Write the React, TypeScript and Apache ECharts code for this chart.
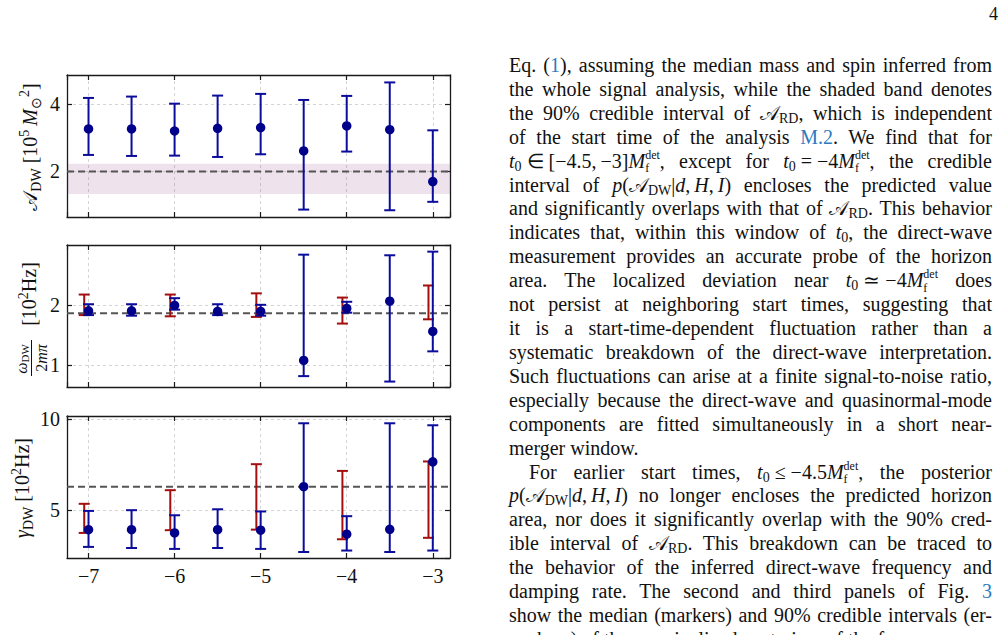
import React, { useEffect, useLayoutEffect, useRef } from "react";
import * as echarts from "echarts";

// ---------------- data ----------------
const t0 = [-7, -6.5, -6, -5.5, -5, -4.5, -4, -3.5, -3];
const redT0 = [-7, -6, -5, -4, -3];

const areaMedian = [3.26, 3.26, 3.2, 3.28, 3.3, 2.61, 3.35, 3.24, 1.7];
const areaLower = [2.49, 2.46, 2.47, 2.43, 2.51, 0.87, 2.59, 0.85, 1.1];
const areaUpper = [4.18, 4.22, 4.01, 4.25, 4.3, 4.12, 4.24, 4.64, 3.22];
const areaPredicted = 2.0;
const areaBand = [1.33, 2.23];

const freqMedian = [1.9, 1.9, 1.99, 1.89, 1.89, 1.08, 1.94, 2.06, 1.56];
const freqLower = [1.83, 1.82, 1.92, 1.83, 1.82, 0.82, 1.87, 0.73, 1.23];
const freqUpper = [2.01, 2.01, 2.11, 2.01, 2.0, 2.83, 2.05, 2.82, 2.88];
const freqPredicted = 1.86;
const redFreqLower = [1.83, 1.81, 1.8, 1.69, 1.76];
const redFreqUpper = [2.17, 2.17, 2.19, 2.12, 2.32];

const dampMedian = [3.93, 3.93, 3.75, 3.93, 3.9, 6.29, 3.68, 3.95, 7.66];
const dampLower = [2.98, 2.92, 2.87, 2.92, 2.87, 2.7, 2.78, 2.7, 2.78];
const dampUpper = [4.96, 5.0, 4.72, 5.05, 4.93, 9.78, 4.67, 9.78, 9.67];
const dampPredicted = 6.29;
const redDampLower = [3.75, 3.9, 3.93, 3.4, 3.48];
const redDampUpper = [5.35, 6.1, 7.53, 7.16, 7.68];

const xTickStep = 1;
const yTickSteps = [2, 1, 5];

// ---------------- styles ----------------
const FONT = "'Liberation Serif', 'Times New Roman', serif";
const INK = "#111111";
const BLUE_MARK = "#00008b";
const BLUE_BAR = "#0c0c9c";
const RED_BAR = "#a50e0e";
const RED_SHIFT = -0.05;
const X_MIN = -7.25;
const X_MAX = -2.8;

const GRID_LEFT = 67;
const GRID_WIDTH = 383;
const panelLayout = [
  { top: 75, height: 142, yMin: 0.65, yMax: 4.86 },
  { top: 245, height: 142, yMin: 0.64, yMax: 2.99 },
  { top: 416, height: 142, yMin: 2.37, yMax: 10.18 },
];

const panelData = [
  { med: areaMedian, lo: areaLower, hi: areaUpper, pred: areaPredicted, band: areaBand, rlo: null, rhi: null },
  { med: freqMedian, lo: freqLower, hi: freqUpper, pred: freqPredicted, band: null, rlo: redFreqLower, rhi: redFreqUpper },
  { med: dampMedian, lo: dampLower, hi: dampUpper, pred: dampPredicted, band: null, rlo: redDampLower, rhi: redDampUpper },
];

const fmt = (v: number) => (v < 0 ? "\u2212" + String(-v) : String(v));

const AXIS_LINE = { show: true, onZero: false, lineStyle: { color: "#1a1a1a", width: 1.3 } };
const AXIS_TICK = { show: true, inside: true, length: 5, lineStyle: { color: "#1a1a1a", width: 1.2 } };
const SPLIT = { show: true, lineStyle: { color: "#d4d4d4", width: 1, type: [3, 3] as any } };

function errorBars(idx: number, xs: number[], lo: number[], hi: number[], color: string, shift: number, z: number) {
  return {
    type: "custom",
    xAxisIndex: idx * 2,
    yAxisIndex: idx * 2,
    silent: true,
    z,
    data: xs.map((x, i) => [x, lo[i], hi[i]]),
    encode: { x: 0, y: [1, 2] },
    renderItem: (params: any, api: any) => {
      const x = api.value(0) + shift;
      const top = api.coord([x, api.value(2)]);
      const bot = api.coord([x, api.value(1)]);
      const hw = 5.5;
      const style = { stroke: color, lineWidth: 2, fill: "none" };
      return {
        type: "group",
        children: [
          { type: "line", shape: { x1: top[0], y1: top[1], x2: bot[0], y2: bot[1] }, style },
          { type: "line", shape: { x1: top[0] - hw, y1: top[1], x2: top[0] + hw, y2: top[1] }, style },
          { type: "line", shape: { x1: bot[0] - hw, y1: bot[1], x2: bot[0] + hw, y2: bot[1] }, style },
        ],
      };
    },
  };
}

function buildOption() {
  const grid: any[] = [];
  const xAxis: any[] = [];
  const yAxis: any[] = [];
  const series: any[] = [];

  panelLayout.forEach((p, i) => {
    grid.push({ left: GRID_LEFT, top: p.top, width: GRID_WIDTH, height: p.height, show: false });
    const isLast = i === panelLayout.length - 1;
    xAxis.push({
      type: "value", gridIndex: i, position: "bottom", min: X_MIN, max: X_MAX,
      minInterval: xTickStep, maxInterval: xTickStep,
      axisLine: AXIS_LINE, axisTick: AXIS_TICK, splitLine: SPLIT,
      axisLabel: {
        show: isLast, showMinLabel: false, showMaxLabel: false, formatter: fmt,
        fontFamily: FONT, fontSize: 20, color: INK, margin: 8,
      },
    });
    xAxis.push({
      type: "value", gridIndex: i, position: "top", min: X_MIN, max: X_MAX,
      minInterval: xTickStep, maxInterval: xTickStep,
      axisLine: AXIS_LINE, axisTick: AXIS_TICK, splitLine: { show: false }, axisLabel: { show: false },
    });
    yAxis.push({
      type: "value", gridIndex: i, position: "left", min: p.yMin, max: p.yMax,
      minInterval: yTickSteps[i], maxInterval: yTickSteps[i],
      axisLine: AXIS_LINE, axisTick: AXIS_TICK, splitLine: SPLIT,
      axisLabel: {
        showMinLabel: false, showMaxLabel: false, formatter: fmt,
        fontFamily: FONT, fontSize: 20, color: INK, margin: 7,
      },
    });
    yAxis.push({
      type: "value", gridIndex: i, position: "right", min: p.yMin, max: p.yMax,
      minInterval: yTickSteps[i], maxInterval: yTickSteps[i],
      axisLine: AXIS_LINE, axisTick: AXIS_TICK, splitLine: { show: false }, axisLabel: { show: false },
    });

    const d = panelData[i];
    if (d.band) {
      series.push({
        type: "custom", xAxisIndex: i * 2, yAxisIndex: i * 2, silent: true, z: 1,
        data: [[X_MIN, d.band[0], d.band[1]]],
        encode: { x: 0, y: [1, 2] },
        renderItem: (params: any, api: any) => {
          const cs = params.coordSys;
          const yTop = api.coord([X_MIN, api.value(2)])[1];
          const yBot = api.coord([X_MIN, api.value(1)])[1];
          return {
            type: "rect",
            shape: { x: cs.x, y: yTop, width: cs.width, height: yBot - yTop },
            style: { fill: "rgba(120, 30, 110, 0.13)" },
          };
        },
      });
    }
    series.push({
      type: "custom", xAxisIndex: i * 2, yAxisIndex: i * 2, silent: true, z: 2,
      data: [[X_MIN, d.pred]],
      encode: { x: 0, y: 1 },
      renderItem: (params: any, api: any) => {
        const cs = params.coordSys;
        const y = api.coord([X_MIN, api.value(1)])[1];
        return {
          type: "line",
          shape: { x1: cs.x, y1: y, x2: cs.x + cs.width, y2: y },
          style: { stroke: "#555555", lineWidth: 2, lineDash: [7, 4], fill: "none" },
        };
      },
    });
    if (d.rlo && d.rhi) series.push(errorBars(i, redT0, d.rlo, d.rhi, RED_BAR, RED_SHIFT, 3));
    series.push(errorBars(i, t0, d.lo, d.hi, BLUE_BAR, 0, 4));
    series.push({
      type: "scatter", xAxisIndex: i * 2, yAxisIndex: i * 2, silent: true, z: 5,
      symbol: "circle", symbolSize: 9.5,
      itemStyle: { color: BLUE_MARK, opacity: 1 },
      data: t0.map((x, k) => [x, d.med[k]]),
    });
  });

  const RICH: any = {
    n: { fontFamily: FONT, fontSize: 20, lineHeight: 26, verticalAlign: "middle", fill: INK },
    i: { fontFamily: FONT, fontSize: 20, fontStyle: "italic", lineHeight: 26, verticalAlign: "middle", fill: INK },
    s: { fontFamily: FONT, fontSize: 14, lineHeight: 13, verticalAlign: "bottom", fill: INK },
    p: { fontFamily: FONT, fontSize: 14, lineHeight: 13, verticalAlign: "top", fill: INK },
    fi: { fontFamily: FONT, fontSize: 16, fontStyle: "italic", lineHeight: 18, verticalAlign: "middle", fill: INK },
    fn: { fontFamily: FONT, fontSize: 16, lineHeight: 18, verticalAlign: "middle", fill: INK },
    fs: { fontFamily: FONT, fontSize: 11, lineHeight: 10, verticalAlign: "bottom", fill: INK },
  };
  const textStyle = (text: string) => ({
    text, rich: RICH, align: "center", verticalAlign: "middle", textAlign: "center", textVerticalAlign: "middle",
    fontFamily: FONT, fontSize: 20, fill: INK,
  });

  const graphic: any[] = [
    {
      type: "text", x: 30, y: 147, rotation: Math.PI / 2, silent: true,
      style: textStyle("{n|\u{1D49C}}{s|DW}{n| [10}{p|5}{i|\u2009M}{s|\u2299}{p|2}{n|]}"),
    },
    {
      type: "group", x: 29, y: 318, rotation: Math.PI / 2, silent: true,
      children: [
        { type: "text", x: 24, y: 0, style: textStyle("{n|[10}{p|2}{n|Hz]}") },
        { type: "text", x: -41, y: -8, style: textStyle("{fi|\u03c9}{fs|DW}") },
        { type: "line", shape: { x1: -58, y1: 2.5, x2: -22, y2: 2.5 }, style: { stroke: INK, lineWidth: 1 } },
        { type: "text", x: -40, y: 12, style: textStyle("{fn|2}{fi|m\u03c0}") },
      ],
    },
    {
      type: "text", x: 22, y: 488, rotation: Math.PI / 2, silent: true,
      style: textStyle("{i|\u03b3}{s|DW}{n| [10}{p|2}{n|Hz]}"),
    },
  ];

  return { animation: false, grid, xAxis, yAxis, series, graphic };
}

// ---------------- page text ----------------
const T0 = "<i>t</i><sub>0</sub>";
const MF = '<i>M</i><span class="stk"><span>det</span><span>f</span></span>';
const ARD = '<span class="scr">\u{1D49C}</span><sub>RD</sub>';
const ADW = '<span class="scr">\u{1D49C}</span><sub>DW</sub>';
const LNK = (s: string) => `<span class="lnk">${s}</span>`;
const PDH = `<i>p</i>(${ADW}|<i>d</i>,\u2009<i>H</i>,\u2009<i>I</i>)`;

const textLines = [
  `Eq. (${LNK("1")}), assuming the median mass and spin inferred from`,
  `the whole signal analysis, while the shaded band denotes`,
  `the 90% credible interval of ${ARD}, which is independent`,
  `of the start time of the analysis ${LNK("M.2")}. We find that for`,
  `${T0}\u2005\u2208\u2005[\u22124.5,\u2009\u22123]${MF}, except for ${T0}\u2005=\u2005\u22124${MF}, the credible`,
  `interval of ${PDH} encloses the predicted value`,
  `and significantly overlaps with that of ${ARD}. This behavior`,
  `indicates that, within this window of ${T0}, the direct-wave`,
  `measurement provides an accurate probe of the horizon`,
  `area. The localized deviation near ${T0}\u2005\u2243\u2005\u22124${MF} does`,
  `not persist at neighboring start times, suggesting that`,
  `it is a start-time-dependent fluctuation rather than a`,
  `systematic breakdown of the direct-wave interpretation.`,
  `Such fluctuations can arise at a finite signal-to-noise ratio,`,
  `especially because the direct-wave and quasinormal-mode`,
  `components are fitted simultaneously in a short near-`,
  `merger window.`,
  `For earlier start times, ${T0}\u2005\u2264\u2005\u22124.5${MF}, the posterior`,
  `${PDH} no longer encloses the predicted horizon`,
  `area, nor does it significantly overlap with the 90% cred-`,
  `ible interval of ${ARD}. This breakdown can be traced to`,
  `the behavior of the inferred direct-wave frequency and`,
  `damping rate. The second and third panels of Fig. ${LNK("3")}`,
  `show the median (markers) and 90% credible intervals (er-`,
  `ror bars) of the marginalized posteriors of the frequency`,
];
const paragraphEnds = [16];
const indentedLines = [17];

const COL_LEFT = 509;
const COL_WIDTH = 483;
const LINE_STEP = 23.92;
const FIRST_TOP = 52.9;
const INDENT = 20;

const css = `
.pg { position:absolute; left:0; top:0; width:1008px; height:635px; overflow:hidden; background:#fff; }
.ln { position:absolute; height:24px; line-height:24px; white-space:nowrap; font-family:${FONT}; font-size:20px; color:#111; }
.ln sub { font-size:14px; position:relative; top:3px; vertical-align:baseline; line-height:1; }
.ln sup { font-size:14px; position:relative; top:-7px; vertical-align:baseline; line-height:1; }
.ln .stk { display:inline-flex; flex-direction:column; font-size:12px; line-height:13.6px; position:relative; top:-9px; vertical-align:baseline; }
.ln .lnk { color:#2b7bc0; }
.ln .scr { font-style:normal; }
.pno { position:absolute; left:989px; top:2px; font-family:${FONT}; font-size:18px; line-height:24px; color:#111; }
`;

export default function App() {
  const chartRef = useRef<HTMLDivElement>(null);
  const colRef = useRef<HTMLDivElement>(null);

  useEffect(() => {
    const chart = echarts.init(chartRef.current!, null, { renderer: "svg" });
    chart.setOption(buildOption() as any);
    return () => chart.dispose();
  }, []);

  useLayoutEffect(() => {
    const justify = () => {
      const root = colRef.current;
      if (!root) return;
      root.querySelectorAll<HTMLSpanElement>("span.jt").forEach((s) => {
        const target = Number(s.dataset.w || 0);
        s.style.wordSpacing = "0px";
        if (!target) return;
        const w = s.getBoundingClientRect().width;
        const n = (s.textContent || "").split(" ").length - 1;
        if (n > 0) s.style.wordSpacing = (target - w) / n + "px";
      });
    };
    justify();
    const fonts: any = (document as any).fonts;
    if (fonts && fonts.ready) fonts.ready.then(justify);
  }, []);

  return (
    <div className="pg">
      <style>{css}</style>
      <div ref={chartRef} style={{ position: "absolute", left: 0, top: 0, width: 1008, height: 635 }} />
      <div className="pno">4</div>
      <div ref={colRef}>
        {textLines.map((html, i) => {
          const indent = indentedLines.includes(i) ? INDENT : 0;
          const justified = !paragraphEnds.includes(i) && i !== textLines.length - 1;
          return (
            <div
              key={i}
              className="ln"
              style={{ left: COL_LEFT + indent, top: FIRST_TOP + LINE_STEP * i }}
            >
              <span
                className="jt"
                data-w={justified ? COL_WIDTH - indent : 0}
                dangerouslySetInnerHTML={{ __html: html }}
              />
            </div>
          );
        })}
      </div>
    </div>
  );
}
